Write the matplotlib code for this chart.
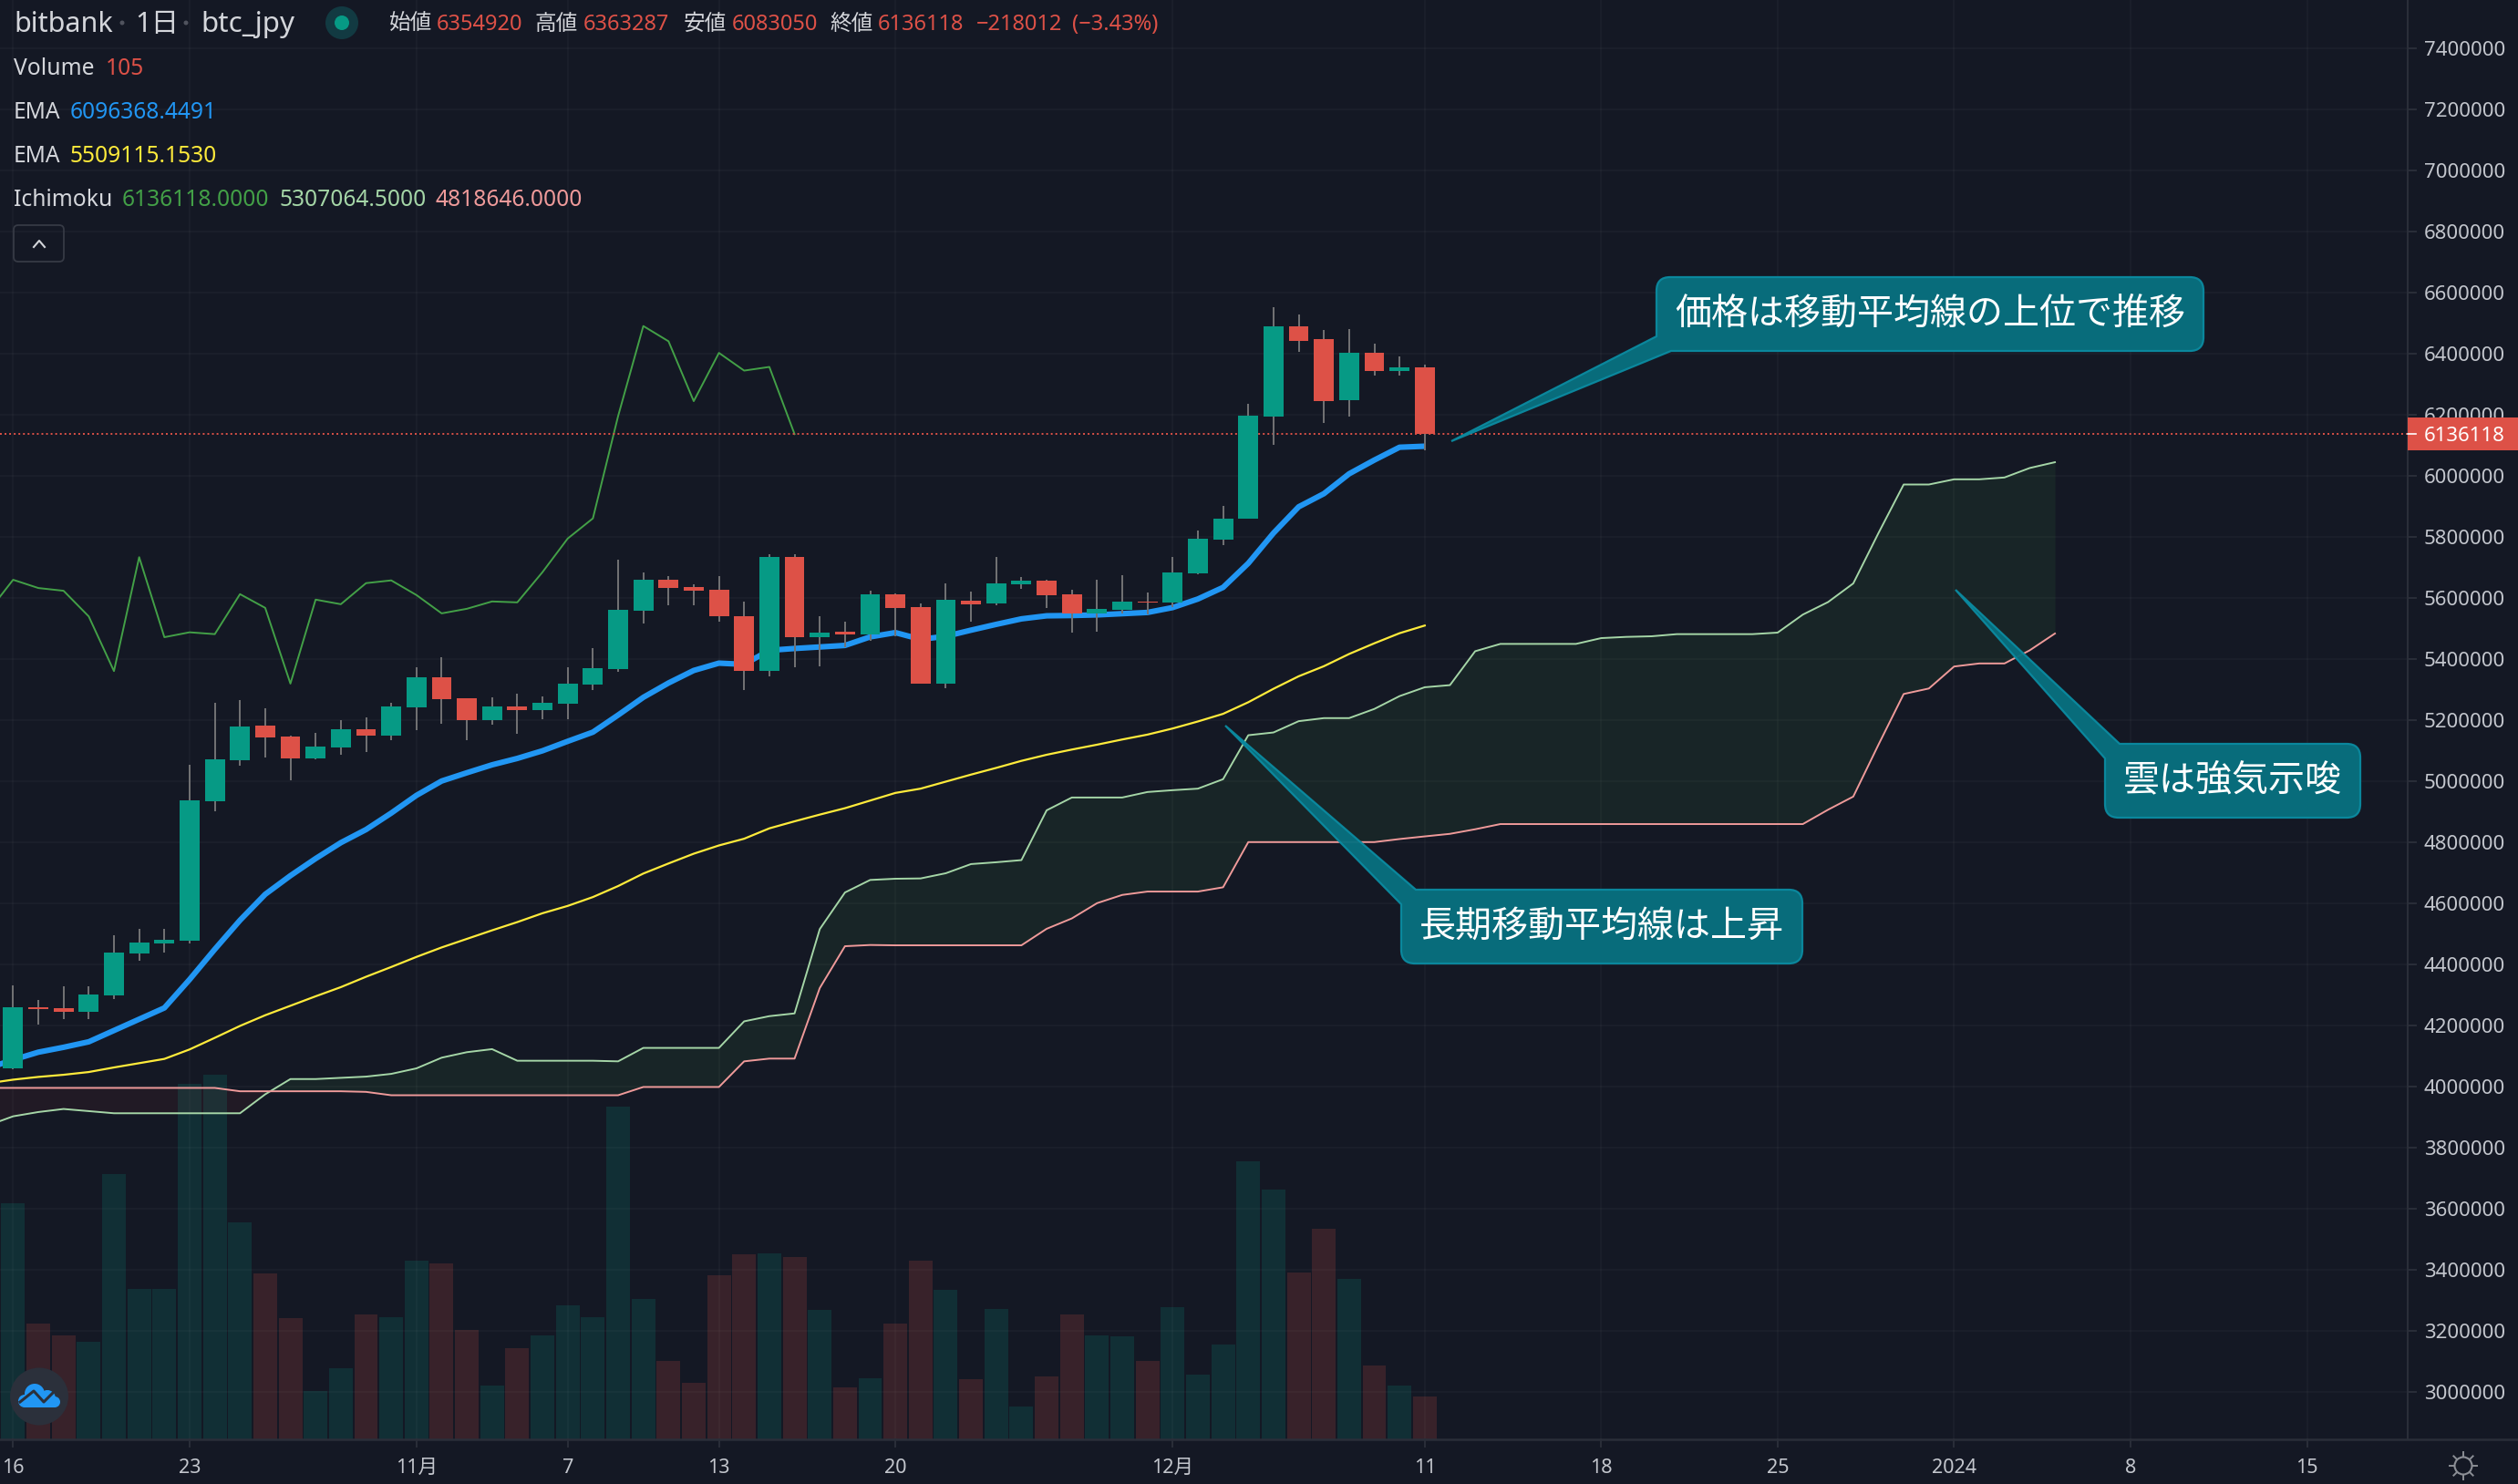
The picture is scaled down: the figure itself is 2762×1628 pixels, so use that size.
import numpy as np
import matplotlib
matplotlib.use('Agg')
import matplotlib.pyplot as plt
from matplotlib.path import Path
from matplotlib.patches import PathPatch, Circle, Ellipse, FancyBboxPatch

plt.rcParams['font.family'] = ['Noto Sans', 'Noto Sans CJK JP', 'DejaVu Sans']

# すべて千円単位 (10/16 を day 0 とする)
opens = [4060, 4259, 4256, 4244, 4298, 4434, 4468, 4476, 4933, 5068, 5182, 5146, 5074, 5110, 5169, 5148, 5241, 5339, 5271,
         5199, 5243, 5232, 5252, 5315, 5366, 5558, 5659, 5634, 5626, 5541, 5360, 5733, 5472, 5490, 5481, 5612, 5570, 5319,
         5591, 5582, 5645, 5657, 5612, 5549, 5561, 5588, 5585, 5681, 5791, 5859, 6192, 6490, 6446, 6247, 6402, 6344, 6354.92]
closes = [4259, 4253, 4244, 4301, 4438, 4470, 4480, 4937, 5070, 5178, 5142, 5074, 5112, 5169, 5148, 5243, 5339, 5268, 5199,
          5243, 5232, 5256, 5319, 5370, 5560, 5659, 5632, 5623, 5539, 5360, 5733, 5471, 5487, 5481, 5612, 5567, 5319, 5594,
          5579, 5648, 5657, 5609, 5549, 5564, 5588, 5585, 5684, 5794, 5860, 6195, 6490, 6440, 6244, 6402, 6344, 6356, 6136.118]
highs = [4330, 4282, 4328, 4328, 4496, 4517, 4515, 5053, 5256, 5264, 5237, 5148, 5157, 5199, 5207, 5256, 5372, 5404, 5271,
         5273, 5285, 5277, 5372, 5435, 5725, 5682, 5670, 5643, 5670, 5587, 5742, 5742, 5540, 5522, 5624, 5615, 5582, 5648,
         5621, 5734, 5669, 5660, 5627, 5660, 5675, 5618, 5734, 5821, 5901, 6235, 6551, 6527, 6478, 6481, 6431, 6390, 6363.287]
lows = [4056, 4201, 4220, 4220, 4287, 4411, 4438, 4467, 4901, 5049, 5076, 5002, 5070, 5085, 5095, 5133, 5167, 5186, 5133,
        5184, 5154, 5201, 5201, 5298, 5358, 5517, 5575, 5577, 5522, 5299, 5342, 5372, 5376, 5439, 5459, 5474, 5319, 5304,
        5522, 5576, 5630, 5567, 5487, 5490, 5549, 5546, 5570, 5678, 5773, 5859, 6101, 6405, 6174, 6192, 6329, 6329, 6083.05]
volumes = [583, 286, 257, 241, 655, 370, 370, 877, 898, 535, 408, 300, 119, 175, 307, 302, 440, 433, 270, 132, 225, 257,
           331, 302, 821, 347, 193, 139, 404, 456, 458, 449, 318, 128, 150, 286, 440, 368, 148, 322, 82, 155, 307, 257,
           254, 193, 325, 159, 234, 685, 615, 411, 519, 395, 182, 132, 105]

# day -1 から day 56 まで
ema_short = [4060, 4087, 4112, 4128, 4146, 4183, 4220, 4257, 4350, 4449, 4544, 4629, 4690, 4746, 4798, 4841, 4895, 4953,
             5000, 5027, 5053, 5074, 5099, 5130, 5160, 5216, 5274, 5321, 5362, 5386, 5382, 5428, 5434, 5439, 5444, 5472,
             5486, 5464, 5474, 5494, 5513, 5531, 5541, 5542, 5544, 5548, 5552, 5568, 5596, 5634, 5713, 5812, 5898, 5941,
             6006, 6051, 6093, 6096.368]
ema_long = [4010, 4022, 4031, 4038, 4047, 4062, 4076, 4090, 4121, 4159, 4198, 4233, 4264, 4295, 4325, 4359, 4391, 4424,
            4455, 4483, 4511, 4538, 4567, 4591, 4620, 4656, 4697, 4730, 4762, 4789, 4811, 4845, 4868, 4890, 4911, 4936,
            4961, 4975, 4998, 5021, 5043, 5066, 5086, 5103, 5119, 5136, 5152, 5172, 5195, 5220, 5258, 5302, 5343, 5376,
            5416, 5451, 5484, 5509.115]

# day -1 から day 31 まで
chikou = [5553, 5659, 5632, 5623, 5539, 5360, 5733, 5471, 5487, 5481, 5612, 5567, 5319, 5594, 5579, 5648, 5657, 5609,
          5549, 5564, 5588, 5585, 5684, 5794, 5860, 6195, 6490, 6440, 6244, 6402, 6344, 6356, 6136.118]

# day -1 から day 81 まで
span_a = [3872, 3902, 3916, 3926, 3919, 3912, 3912, 3912, 3912, 3912, 3912, 3974, 4024, 4024, 4028, 4032, 4041, 4059,
          4094, 4112, 4122, 4084, 4084, 4084, 4084, 4082, 4126, 4126, 4126, 4126, 4213, 4230, 4239, 4515, 4635, 4676,
          4680, 4681, 4698, 4728, 4734, 4741, 4904, 4946, 4946, 4946, 4964, 4970, 4975, 5006, 5150, 5159, 5196, 5206,
          5206, 5236, 5278, 5307.064, 5314, 5425, 5449, 5449, 5449, 5449, 5468, 5472, 5474, 5481, 5481, 5481, 5481,
          5486, 5545, 5586, 5647, 5812, 5971, 5971, 5988, 5988, 5994, 6025, 6044]
span_b = [3995, 3995, 3995, 3995, 3995, 3995, 3995, 3995, 3995, 3995, 3984, 3984, 3984, 3984, 3984, 3982, 3971, 3971,
          3971, 3971, 3971, 3971, 3971, 3971, 3971, 3971, 3998, 3998, 3998, 3998, 4082, 4091, 4091, 4322, 4459, 4463,
          4462, 4462, 4462, 4462, 4462, 4462, 4516, 4550, 4600, 4627, 4638, 4638, 4638, 4652, 4800, 4800, 4800, 4800,
          4800, 4800, 4810, 4818.646, 4827, 4842, 4859, 4859, 4859, 4859, 4859, 4859, 4859, 4859, 4859, 4859, 4859,
          4859, 4859, 4906, 4949, 5119, 5285, 5303, 5375, 5385, 5385, 5428, 5483]

price_ticks = list(range(3000000, 7600000, 200000))
time_ticks = [0, 7, 16, 22, 28, 35, 46, 56, 63, 70, 77, 84, 91]
time_labels = ['16', '23', '11月', '7', '13', '20', '12月', '11', '18', '25', '2024', '8', '15']
last_price = 6136118

BG = '#141824'
GREEN = '#069a85'
RED = '#dd5147'
W, H = 2762, 1628
AX_R, AX_B = 2641, 1579
Y_TOP = 320.8  # 6600000 の高さ (px)

opens = np.array(opens) * 1000
closes = np.array(closes) * 1000
highs = np.array(highs) * 1000
lows = np.array(lows) * 1000
candle_days = np.arange(len(opens))
candle_colors = [GREEN if c >= o else RED for o, c in zip(opens, closes)]

fig = plt.figure(figsize=(W / 100, H / 100), dpi=100, facecolor=BG)

# 出来高は下の軸、価格は上の軸
ax_vol = fig.add_axes([0, 1 - AX_B / H, AX_R / W, AX_B / H], facecolor=BG, zorder=1)
ax = fig.add_axes([0, 1 - AX_B / H, AX_R / W, AX_B / H], facecolor='none', zorder=2)

xlim = (-14.4 / 27.65, (AX_R - 14.4) / 27.65)
ax.set_xlim(xlim)
ax_vol.set_xlim(xlim)
ax_vol.set_ylim(0, AX_B / 0.445)
ax_vol.axis('off')
ax.set_ylim(6600000 - (AX_B - Y_TOP) / 0.000335, 6600000 + Y_TOP / 0.000335)

ax_vol.bar(candle_days, volumes, width=0.94, color=candle_colors, alpha=0.18, linewidth=0)

ax.set_axisbelow(True)
ax.grid(True, color='white', alpha=0.03, linewidth=1.3)

days_ema = np.arange(-1, len(ema_short) - 1)
days_chikou = np.arange(-1, len(chikou) - 1)
days_span = np.arange(-1, len(span_a) - 1)
a = np.array(span_a) * 1000
b = np.array(span_b) * 1000

ax.fill_between(days_span, a, b, where=a >= b, interpolate=True, color='#43a047', alpha=0.1, linewidth=0, zorder=1.5)
ax.fill_between(days_span, a, b, where=a < b, interpolate=True, color='#f44336', alpha=0.06, linewidth=0, zorder=1.5)
ax.plot(days_span, a, color='#a5d6a7', lw=1.4, zorder=2)
ax.plot(days_span, b, color='#ef9a9a', lw=1.4, zorder=2)
ax.plot(days_chikou, np.array(chikou) * 1000, color='#43a047', lw=1.4, zorder=2)
ax.plot(days_ema, np.array(ema_long) * 1000, color='#ffeb3b', lw=1.6, zorder=2)
ax.plot(days_ema, np.array(ema_short) * 1000, color='#2196f3', lw=4.4, zorder=2, solid_capstyle='butt')
ax.axhline(last_price, color=RED, lw=1.4, ls=(0, (1, 1.6)), zorder=2.5)

ax.vlines(candle_days, lows, highs, color='#737375', lw=1.4, zorder=3)
ax.bar(candle_days, np.abs(closes - opens), bottom=np.minimum(opens, closes), width=0.79,
       color=candle_colors, linewidth=0, zorder=3.5)

ax.set_xticks(time_ticks)
ax.set_xticklabels([])
ax.set_yticks(price_ticks)
ax.set_yticklabels([])
ax.tick_params(length=0)
for s in ax.spines.values():
    s.set_visible(False)

# 軸の外側とテキストはピクセル座標のオーバーレイに描く
ov = fig.add_axes([0, 0, 1, 1], facecolor='none', zorder=5)
ov.set_xlim(0, W)
ov.set_ylim(H, 0)
ov.axis('off')

AXIS_C = '#2a2e39'
LABEL_C = '#c3c6cd'
ov.plot([AX_R, AX_R], [0, AX_B], color=AXIS_C, lw=1.5)
ov.plot([0, W], [AX_B, AX_B], color=AXIS_C, lw=1.8)

to_y = lambda p: Y_TOP + (6600000 - p) * 0.000335
to_x = lambda d: 14.4 + 27.65 * d

for p in price_ticks:
    ov.plot([AX_R, AX_R + 9], [to_y(p)] * 2, color=AXIS_C, lw=1.4)
    ov.text(2748, to_y(p) + 2.5, str(p), color=LABEL_C, fontsize=16, ha='right', va='center', zorder=3)

for d, label in zip(time_ticks, time_labels):
    ov.plot([to_x(d)] * 2, [AX_B, AX_B + 8], color=AXIS_C, lw=1.4)
    ov.text(to_x(d), 1610, label, color=LABEL_C, fontsize=15.5, ha='center', va='center',
            fontweight='bold' if label == '2024' else 'normal')

# 現在値タグ
ov.add_patch(plt.Rectangle((AX_R, 458), W - AX_R, 36, color=RED, lw=0, zorder=4))
ov.text(2748, to_y(last_price) + 2, str(last_price), color='white', fontsize=16, ha='right', va='center', zorder=5)
ov.plot([AX_R, AX_R + 9], [to_y(last_price)] * 2, color='white', lw=1.2, zorder=5)

# 凡例
TXT = '#d4d6db'
ov.text(15, 27, 'bitbank', color=TXT, fontsize=22, va='center')
ov.text(148, 27, '1日', color=TXT, fontsize=22, va='center')
ov.text(220, 27, 'btc_jpy', color=TXT, fontsize=22.5, va='center')
ov.add_patch(Circle((134, 25), 2.5, color='#50535e', lw=0))
ov.add_patch(Circle((204, 25), 2.5, color='#50535e', lw=0))
ov.add_patch(Circle((375, 25), 18, color='#123a42', lw=0))
ov.add_patch(Circle((375, 25), 8, color=GREEN, lw=0))

for x, s, c in [(427, '始値', TXT), (479, '6354920', RED), (587, '高値', TXT), (640, '6363287', RED),
                (750, '安値', TXT), (803, '6083050', RED), (910, '終値', TXT), (963, '6136118', RED),
                (1071, '−218012', RED), (1176, '(−3.43%)', RED)]:
    ov.text(x, 27, s, color=c, fontsize=17, va='center')

for x, y, s, c in [(15, 76, 'Volume', TXT), (116, 76, '105', RED),
                   (15, 124, 'EMA', TXT), (77, 124, '6096368.4491', '#2196f3'),
                   (15, 172, 'EMA', TXT), (77, 172, '5509115.1530', '#ffeb3b'),
                   (15, 220, 'Ichimoku', TXT), (134, 220, '6136118.0000', '#43a047'),
                   (307, 220, '5307064.5000', '#a5d6a7'), (478, 220, '4818646.0000', '#ef9a9a')]:
    ov.text(x, y, s, color=c, fontsize=17.7, va='center')

ov.add_patch(FancyBboxPatch((18, 250), 49, 34, boxstyle='round,pad=3,rounding_size=5', fc='none', ec='#363a45', lw=1.3))
ov.plot([37, 43, 49], [271, 264, 271], color='#d4d6db', lw=1.5)


def callout(x0, y0, x1, y1, tip, corner, text, a=16, r=15):
    # 吹き出し: 指定の角からしっぽを伸ばす
    def rounded(cx, cy, p1, p2):
        return [(Path.LINETO, p1), (Path.CURVE3, (cx, cy)), (Path.CURVE3, p2)]
    segs = [(Path.MOVETO, (x0 + r, y0))]
    segs += [(Path.LINETO, (x1 - r, y0))]
    segs += rounded(x1, y0, (x1 - r, y0), (x1, y0 + r))
    segs += rounded(x1, y1, (x1, y1 - r), (x1 - r, y1))
    if corner == 'bl':
        segs += [(Path.LINETO, (x0 + a, y1)), (Path.LINETO, tip), (Path.LINETO, (x0, y1 - a))]
        segs += rounded(x0, y0, (x0, y0 + r), (x0 + r, y0))
    else:
        segs += rounded(x0, y1, (x0 + r, y1), (x0, y1 - r))
        segs += [(Path.LINETO, (x0, y0 + a)), (Path.LINETO, tip), (Path.LINETO, (x0 + a, y0))]
        segs[0] = (Path.MOVETO, (x0 + a, y0))
    segs.append((Path.CLOSEPOLY, segs[0][1]))
    ov.add_patch(PathPatch(Path([s[1] for s in segs], [s[0] for s in segs]), fc='#08707f', ec='#0b8aa0',
                           lw=1.6, alpha=0.96))
    ov.text((x0 + x1) / 2, (y0 + y1) / 2, text, color='white', fontsize=28.8, ha='center', va='center',
            family=['Noto Sans CJK JP', 'DejaVu Sans'])


callout(1817, 304, 2417, 385, (1592, 484), 'bl', '価格は移動平均線の上位で推移')
callout(1537, 976, 1977, 1057, (1344, 796), 'tl', '長期移動平均線は上昇')
callout(2309, 816, 2589, 897, (2145, 647), 'tl', '雲は強気示唆')

# 左下のロゴ
ov.add_patch(Ellipse((43, 1532), 64, 63, color='#2b303b', lw=0))
for cx, cy, rad in [(27, 1537, 7), (38, 1529, 11), (52, 1534, 9), (60, 1538, 6)]:
    ov.add_patch(Circle((cx, cy), rad, color='#2196f3', lw=0))
ov.add_patch(plt.Rectangle((27, 1535), 33, 9, color='#2196f3', lw=0))
ov.plot([22, 37, 48, 59], [1538, 1526, 1538, 1527], color='#2b303b', lw=2.2)

# 右下の設定アイコン
ov.add_patch(Circle((2702, 1608), 9.5, fc='none', ec='#8b8e95', lw=1.5))
for ang in np.arange(0, 360, 45):
    cs, sn = np.cos(np.radians(ang)), np.sin(np.radians(ang))
    ov.plot([2702 + 10 * cs, 2702 + 15 * cs], [1608 + 10 * sn, 1608 + 15 * sn], color='#8b8e95', lw=1.4)

fig.savefig('out.png', dpi=100, facecolor=BG)
